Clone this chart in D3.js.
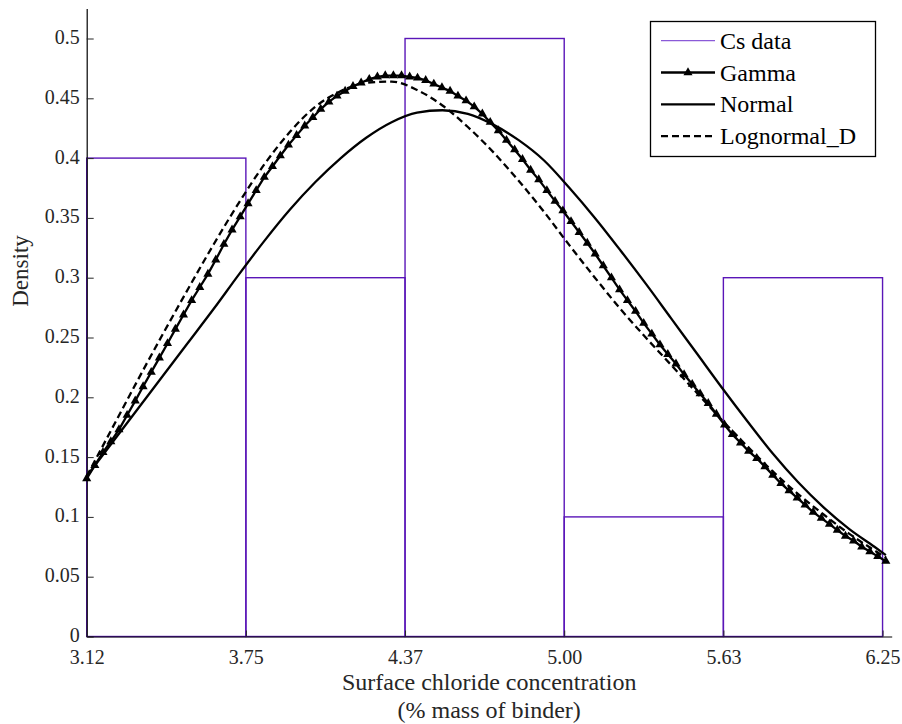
<!DOCTYPE html>
<html>
<head>
<meta charset="utf-8">
<script src="https://cdn.jsdelivr.net/npm/d3@7/dist/d3.min.js"></script>
<style>
  body { margin: 0; background: #ffffff; }
  svg text { font-family: "Liberation Serif", "DejaVu Serif", serif; }
</style>
</head>
<body>
<svg id="chart" width="902" height="724"></svg>
<script>
// ---------------- DATA ----------------
const binEdges = [3.12, 3.7464, 4.3728, 4.9992, 5.6256, 6.252];
const binDensity = [0.4, 0.3, 0.5, 0.1, 0.3];
const xTickLabels = ["3.12", "3.75", "4.37", "5.00", "5.63", "6.25"];
const yTicks = [0, 0.05, 0.1, 0.15, 0.2, 0.25, 0.3, 0.35, 0.4, 0.45, 0.5];

// Gamma fit (dense samples, each drawn with a triangle marker)
const gammaX = [3.120, 3.152, 3.184, 3.215, 3.247, 3.279, 3.311, 3.342, 3.374, 3.406,
  3.438, 3.469, 3.501, 3.533, 3.565, 3.597, 3.628, 3.660, 3.692, 3.724,
  3.755, 3.787, 3.819, 3.851, 3.882, 3.914, 3.946, 3.978, 4.010, 4.041,
  4.073, 4.105, 4.137, 4.168, 4.200, 4.232, 4.264, 4.295, 4.327, 4.359,
  4.391, 4.422, 4.454, 4.486, 4.518, 4.550, 4.581, 4.613, 4.645, 4.677,
  4.708, 4.740, 4.772, 4.804, 4.835, 4.867, 4.899, 4.931, 4.963, 4.994,
  5.026, 5.058, 5.090, 5.121, 5.153, 5.185, 5.217, 5.248, 5.280, 5.312,
  5.344, 5.376, 5.407, 5.439, 5.471, 5.503, 5.534, 5.566, 5.598, 5.630,
  5.661, 5.693, 5.725, 5.757, 5.789, 5.820, 5.852, 5.884, 5.916, 5.947,
  5.979, 6.011, 6.043, 6.074, 6.106, 6.138, 6.170, 6.202, 6.233, 6.265];
const gammaY = [0.132, 0.143, 0.154, 0.163, 0.173, 0.185, 0.197, 0.209, 0.221, 0.233,
  0.245, 0.257, 0.269, 0.281, 0.292, 0.303, 0.315, 0.328, 0.340, 0.351,
  0.362, 0.373, 0.384, 0.393, 0.402, 0.411, 0.419, 0.427, 0.434, 0.441,
  0.447, 0.452, 0.456, 0.460, 0.463, 0.466, 0.468, 0.469, 0.469, 0.469,
  0.468, 0.467, 0.465, 0.462, 0.459, 0.456, 0.452, 0.448, 0.443, 0.437,
  0.430, 0.423, 0.415, 0.407, 0.399, 0.390, 0.382, 0.373, 0.364, 0.356,
  0.347, 0.338, 0.329, 0.320, 0.310, 0.300, 0.290, 0.281, 0.272, 0.262,
  0.253, 0.244, 0.236, 0.228, 0.219, 0.211, 0.203, 0.195, 0.186, 0.177,
  0.169, 0.162, 0.155, 0.149, 0.142, 0.135, 0.128, 0.122, 0.116, 0.110,
  0.104, 0.099, 0.094, 0.089, 0.084, 0.080, 0.075, 0.071, 0.067, 0.063];

// Normal and lognormal fits
const fitX = [3.12, 3.22, 3.32, 3.42, 3.52, 3.62, 3.72, 3.82, 3.92, 4.02,
  4.12, 4.22, 4.32, 4.42, 4.52, 4.62, 4.72, 4.82, 4.92, 5.02,
  5.12, 5.22, 5.32, 5.42, 5.52, 5.62, 5.72, 5.82, 5.92, 6.02,
  6.12, 6.22, 6.265];
const normalY = [0.134, 0.162, 0.190, 0.218, 0.246, 0.274, 0.303, 0.331, 0.357, 0.380,
  0.400, 0.417, 0.430, 0.438, 0.440, 0.437, 0.428, 0.415, 0.398, 0.375,
  0.350, 0.323, 0.295, 0.266, 0.237, 0.208, 0.180, 0.153, 0.129, 0.108,
  0.090, 0.075, 0.068];
const lognormalY = [0.134, 0.174, 0.214, 0.253, 0.291, 0.328, 0.363, 0.395, 0.422, 0.443,
  0.456, 0.463, 0.464, 0.457, 0.444, 0.426, 0.405, 0.381, 0.355, 0.327,
  0.300, 0.274, 0.250, 0.227, 0.204, 0.181, 0.159, 0.138, 0.119, 0.102,
  0.086, 0.072, 0.066];

const legendLabels = ["Cs data", "Gamma", "Normal", "Lognormal_D"];
const xLabelLines = ["Surface chloride concentration", "(% mass of binder)"];
const yLabel = "Density";

// ---------------- CHART ----------------
const FONT = '"Liberation Serif", "DejaVu Serif", serif';
const purple = "#5a16b8";
const svg = d3.select("#chart");

const x = d3.scaleLinear().domain([3.12, 6.288]).range([86.7, 891.7]);
const y = d3.scaleLinear().domain([0, 0.525]).range([636.5, 8.6]);

// Histogram bars (outline only)
const bins = binDensity.map((d, i) => ({ x0: binEdges[i], x1: binEdges[i + 1], v: d }));
svg.append("g").selectAll("rect").data(bins).join("rect")
  .attr("x", d => x(d.x0))
  .attr("y", d => y(d.v))
  .attr("width", d => x(d.x1) - x(d.x0))
  .attr("height", d => y(0) - y(d.v))
  .attr("fill", "none")
  .attr("stroke", purple)
  .attr("stroke-width", 1.4);

// Curves
const gammaData = gammaX.map((v, i) => [v, gammaY[i]]);
const normalData = fitX.map((v, i) => [v, normalY[i]]);
const lognData = fitX.map((v, i) => [v, lognormalY[i]]);

const lineLin = d3.line().x(d => x(d[0])).y(d => y(d[1]));
const lineSmooth = d3.line().x(d => x(d[0])).y(d => y(d[1])).curve(d3.curveMonotoneX);

svg.append("path").datum(normalData)
  .attr("d", lineSmooth).attr("fill", "none")
  .attr("stroke", "#000").attr("stroke-width", 2.3);

svg.append("path").datum(lognData)
  .attr("d", lineSmooth).attr("fill", "none")
  .attr("stroke", "#000").attr("stroke-width", 2.3)
  .attr("stroke-dasharray", "7,4");

svg.append("path").datum(gammaData)
  .attr("d", lineLin).attr("fill", "none")
  .attr("stroke", "#000").attr("stroke-width", 2.3);

const tri = d3.symbol().type(d3.symbolTriangle).size(36);
svg.append("g").selectAll("path").data(gammaData).join("path")
  .attr("d", tri)
  .attr("transform", d => `translate(${x(d[0])},${y(d[1])})`)
  .attr("fill", "#000");

// Axes
const yAxis = d3.axisLeft(y).tickValues(yTicks)
  .tickFormat(d => String(+d.toFixed(2)))
  .tickSizeInner(-7).tickSizeOuter(0).tickPadding(7);
const gy = svg.append("g").attr("transform", `translate(${x.range()[0]},0)`).call(yAxis);

const xAxis = d3.axisBottom(x).tickValues(binEdges)
  .tickFormat((d, i) => xTickLabels[i])
  .tickSizeInner(-6).tickSizeOuter(0).tickPadding(13);
const gx = svg.append("g").attr("transform", `translate(0,${y(0)})`).call(xAxis);

[gx, gy].forEach(g => {
  g.attr("font-family", FONT).attr("font-size", 20);
  g.select(".domain").attr("stroke", "#000").attr("stroke-width", 1.2);
  g.selectAll(".tick line").attr("stroke", "#262626").attr("stroke-width", 1);
  g.selectAll(".tick text").attr("fill", "#262626")
    .attr("font-family", FONT).attr("font-size", 20);
});
gy.selectAll(".tick text").attr("dy", "0.25em");

// Axis labels
const xl = svg.append("text")
  .attr("text-anchor", "middle")
  .attr("font-family", FONT)
  .attr("fill", "#262626").attr("font-size", 24);
xl.selectAll("tspan").data(xLabelLines).join("tspan")
  .attr("x", (x.range()[0] + x.range()[1]) / 2)
  .attr("y", (d, i) => 690 + i * 27.5)
  .text(d => d);

svg.append("text")
  .attr("transform", "translate(28,271) rotate(-90)")
  .attr("text-anchor", "middle")
  .attr("font-family", FONT)
  .attr("fill", "#262626").attr("font-size", 23)
  .text(yLabel);

// Legend
const lg = svg.append("g");
lg.append("rect").attr("x", 650.5).attr("y", 21.5).attr("width", 225).attr("height", 135)
  .attr("fill", "#fff").attr("stroke", "#000").attr("stroke-width", 1.3);
const rowY = i => 40.7 + i * 31.8;
const styles = [
  { stroke: "#8a5ad8", w: 1.3, dash: null, marker: false },
  { stroke: "#000", w: 2.3, dash: null, marker: true },
  { stroke: "#000", w: 2.3, dash: null, marker: false },
  { stroke: "#000", w: 2.3, dash: "7,4", marker: false }
];
legendLabels.forEach((lab, i) => {
  const s = styles[i];
  lg.append("line").attr("x1", 661).attr("x2", 715).attr("y1", rowY(i)).attr("y2", rowY(i))
    .attr("stroke", s.stroke).attr("stroke-width", s.w)
    .attr("stroke-dasharray", s.dash);
  if (s.marker) {
    lg.append("path").attr("d", tri).attr("transform", `translate(688,${rowY(i)})`).attr("fill", "#000");
  }
  lg.append("text").attr("x", 720).attr("y", rowY(i) + 8)
    .attr("font-family", FONT)
    .attr("fill", "#000").attr("font-size", 24).text(lab);
});
</script>
</body>
</html>
